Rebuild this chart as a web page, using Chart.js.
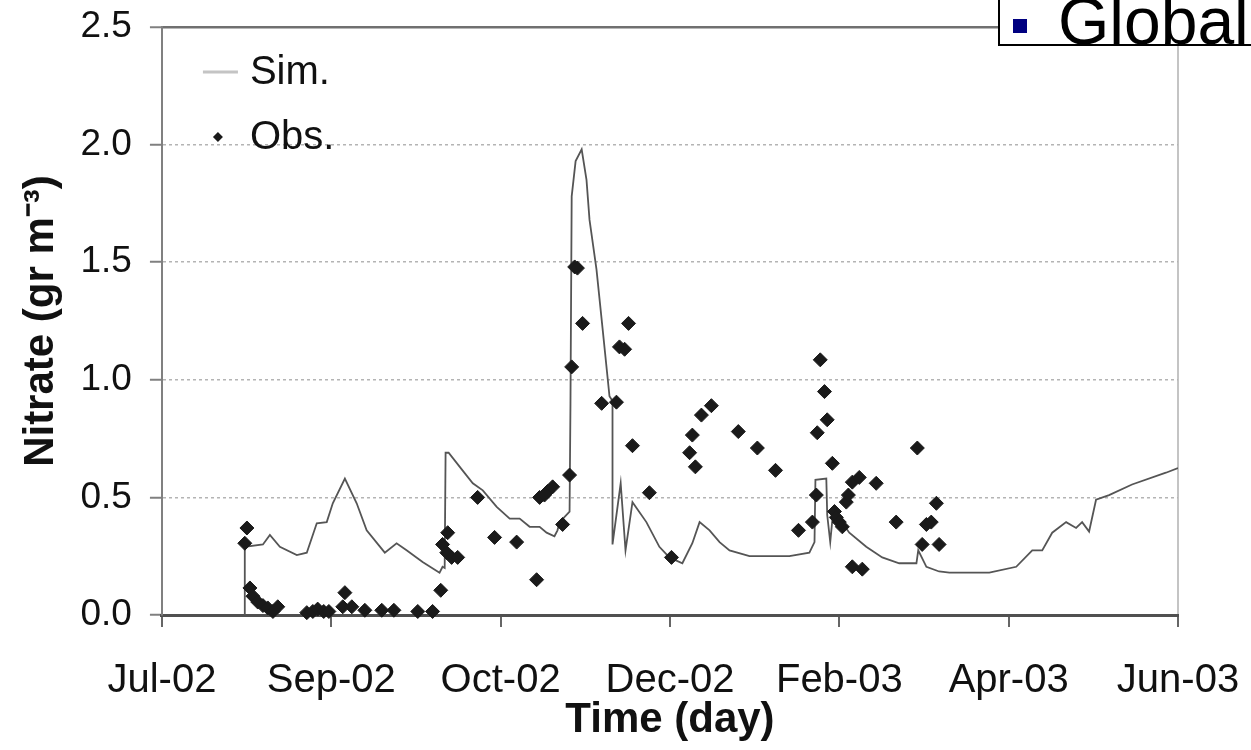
<!DOCTYPE html>
<html>
<head>
<meta charset="utf-8">
<title>Nitrate</title>
<script src="https://cdn.jsdelivr.net/npm/chart.js@4.4.1/dist/chart.umd.min.js"></script>
<style>
  body { margin: 0; background: #fff; }
  #wrap { position: relative; width: 1251px; height: 750px; overflow: hidden; }
  #slideBox {
    position: absolute; left: 998px; top: -20px; width: 300px; height: 62px;
    border: 2px solid #000; background: #fff;
  }
  #slideBullet { position: absolute; left: 13px; top: 37px; width: 14px; height: 14px; background: #000080; }
  #slideText {
    position: absolute; left: 58px; top: 7px; font: 66px 'Liberation Sans', Arial, sans-serif;
    line-height: 64px; color: #000;
  }
</style>
</head>
<body>
<div id="wrap">
  <canvas id="nitrateChart" width="1251" height="750"></canvas>
  <div id="slideBox"><div id="slideBullet"></div><div id="slideText">Global</div></div>
</div>
<script>
// x values are days from the first axis tick (one tick = 56 days)
const tickLabels = ['Jul-02', 'Sep-02', 'Oct-02', 'Dec-02', 'Feb-03', 'Apr-03', 'Jun-03'];

const simDays = [27.4, 27.4, 33.4, 35.7, 39.0, 44.6, 47.9, 51.2, 54.5, 56.5, 60.5, 64.4, 67.7, 73.7, 77.6,
  80.9, 86.2, 91.8, 92.8, 93.5, 93.8, 94.8, 99.4, 102.8, 106.1, 110.7, 115.0, 118.3, 121.6, 124.9,
  127.2, 129.8, 130.8, 131.5, 134.8, 135.1, 135.5, 136.8, 138.8, 140.4, 141.4, 143.7, 145.7, 148.0, 149.0,
  149.0, 151.7, 153.3, 155.6, 160.2, 164.5, 167.8, 172.1, 175.4, 177.8, 181.1, 184.4, 187.7, 194.3, 207.5,
  214.1, 215.8, 216.1, 219.7, 220.0, 221.0, 222.0, 227.3, 232.9, 238.2, 243.8, 249.5, 250.1, 252.8, 257.0,
  260.4, 273.6, 282.5, 287.8, 291.1, 294.4, 299.0, 302.3, 304.3, 306.6, 308.9, 313.2, 320.8, 332.0, 336.0];
const simNitrate = [0, 0.29, 0.30, 0.34, 0.29, 0.255, 0.265, 0.39, 0.395, 0.475, 0.58, 0.475, 0.36, 0.265, 0.305,
  0.275, 0.225, 0.18, 0.205, 0.2, 0.69, 0.69, 0.615, 0.56, 0.53, 0.46, 0.41, 0.41, 0.375, 0.375,
  0.35, 0.335, 0.36, 0.395, 0.44, 0.90, 1.78, 1.93, 1.98, 1.85, 1.68, 1.47, 1.22, 0.93, 0.91,
  0.30, 0.56, 0.275, 0.48, 0.395, 0.29, 0.245, 0.22, 0.305, 0.395, 0.36, 0.31, 0.275, 0.25, 0.25,
  0.265, 0.31, 0.575, 0.58, 0.425, 0.31, 0.445, 0.35, 0.29, 0.245, 0.22, 0.22, 0.275, 0.205, 0.185,
  0.18, 0.18, 0.205, 0.275, 0.275, 0.35, 0.395, 0.37, 0.395, 0.355, 0.49, 0.51, 0.555, 0.605, 0.625];

const obsDays = [27.4, 28.1, 29.1, 30.1, 31.7, 33.4, 35.0, 36.7, 38.3, 47.9, 49.9, 51.5, 53.5, 55.2, 59.8,
  60.5, 62.8, 67.1, 72.7, 76.7, 84.6, 89.5, 92.2, 92.8, 94.2, 94.5, 95.8, 97.8, 104.4, 110.0,
  117.3, 123.9, 124.9, 126.5, 127.5, 129.2, 132.5, 134.8, 135.5, 136.5, 137.4, 139.1, 145.4, 150.3, 151.3,
  153.0, 154.3, 155.6, 161.2, 168.5, 174.5, 175.4, 176.4, 178.4, 181.7, 190.6, 196.9, 202.9, 210.5, 215.1,
  216.4, 216.7, 217.7, 219.1, 220.0, 221.7, 222.4, 223.0, 224.0, 225.0, 226.3, 227.0, 228.3, 230.6, 228.3,
  231.6, 236.2, 242.8, 249.8, 251.4, 252.8, 254.4, 256.1, 257.0];
const obsNitrate = [0.305, 0.37, 0.115, 0.08, 0.055, 0.04, 0.03, 0.015, 0.035, 0.01, 0.015, 0.025, 0.015, 0.015, 0.035,
  0.095, 0.035, 0.02, 0.02, 0.02, 0.015, 0.015, 0.105, 0.30, 0.265, 0.35, 0.245, 0.245, 0.50, 0.33,
  0.31, 0.15, 0.50, 0.51, 0.525, 0.545, 0.385, 0.595, 1.055, 1.48, 1.475, 1.24, 0.90, 0.905, 1.14,
  1.13, 1.24, 0.72, 0.52, 0.245, 0.69, 0.765, 0.63, 0.85, 0.89, 0.78, 0.71, 0.615, 0.36, 0.395,
  0.51, 0.775, 1.085, 0.95, 0.83, 0.645, 0.44, 0.415, 0.395, 0.375, 0.48, 0.51, 0.565, 0.585, 0.205,
  0.195, 0.56, 0.395, 0.71, 0.30, 0.385, 0.395, 0.475, 0.30];

const FONT = "'Liberation Sans', Arial, sans-serif";
Chart.defaults.font.family = FONT;
Chart.defaults.color = '#111';

// legend drawn inside the plot, top-left, like the original
const innerLegend = {
  id: 'innerLegend',
  afterDatasetsDraw(chart) {
    const { ctx, chartArea } = chart;
    const x0 = chartArea.left;
    const y0 = chartArea.top;
    ctx.save();
    ctx.font = '40px ' + FONT;
    ctx.fillStyle = '#111';
    ctx.textBaseline = 'middle';
    // Sim.
    ctx.strokeStyle = '#c4c4c4';
    ctx.lineWidth = 3;
    ctx.beginPath();
    ctx.moveTo(x0 + 41, y0 + 45);
    ctx.lineTo(x0 + 76, y0 + 45);
    ctx.stroke();
    ctx.fillText(chart.data.datasets[1].label, x0 + 88, y0 + 46);
    // Obs.
    ctx.fillStyle = '#1a1a1a';
    ctx.beginPath();
    ctx.moveTo(x0 + 56, y0 + 105);
    ctx.lineTo(x0 + 61, y0 + 110);
    ctx.lineTo(x0 + 56, y0 + 115);
    ctx.lineTo(x0 + 51, y0 + 110);
    ctx.closePath();
    ctx.fill();
    ctx.fillStyle = '#111';
    ctx.fillText(chart.data.datasets[0].label, x0 + 88, y0 + 111);
    ctx.restore();
  }
};

const ctx = document.getElementById('nitrateChart').getContext('2d');
new Chart(ctx, {
  type: 'scatter',
  data: {
    datasets: [{
      label: 'Obs.',
      data: obsDays.map((d, i) => ({ x: d, y: obsNitrate[i] })),
      pointStyle: 'rectRot',
      pointRadius: 7,
      backgroundColor: '#1a1a1a',
      borderColor: '#1a1a1a',
      borderWidth: 1,
      clip: false,
      order: 0
    }, {
      label: 'Sim.',
      data: simDays.map((d, i) => ({ x: d, y: simNitrate[i] })),
      showLine: true,
      pointRadius: 0,
      borderColor: '#555',
      borderWidth: 1.8,
      order: 1
    }]
  },
  options: {
    responsive: false,
    animation: false,
    layout: { padding: { left: 20, top: 27, right: 73, bottom: 9 } },
    plugins: { legend: { display: false }, tooltip: { enabled: false } },
    scales: {
      x: {
        type: 'linear',
        min: 0,
        max: 336,
        ticks: {
          stepSize: 56,
          autoSkip: false,
          maxRotation: 0,
          padding: 10,
          font: { size: 40, lineHeight: 2.2 },
          callback: v => tickLabels[Math.round(v / 56)]
        },
        grid: {
          color: c => (c.index === tickLabels.length - 1 ? '#c4c4c4' : 'rgba(0,0,0,0)'),
          lineWidth: 2,
          tickColor: '#666',
          tickLength: 12,
          tickWidth: 2
        },
        border: { color: '#505050', width: 3 },
        title: {
          display: true,
          text: 'Time (day)',
          font: { size: 42, weight: 'bold', lineHeight: 1.0 },
          padding: { top: -36, bottom: 0 }
        }
      },
      y: {
        min: 0,
        max: 2.5,
        ticks: {
          stepSize: 0.5,
          padding: 18,
          font: { size: 37, lineHeight: 0.49 },
          callback: v => v.toFixed(1)
        },
        grid: {
          color: c => (c.tick && c.tick.value === 2.5 ? '#707070' : (c.tick && c.tick.value === 0 ? 'rgba(0,0,0,0)' : '#b4b4b4')),
          lineWidth: c => (c.tick && c.tick.value === 2.5 ? 2.5 : 1.5),
          tickColor: '#808080',
          tickLength: 12,
          tickWidth: 2
        },
        border: {
          color: '#808080',
          width: 2,
          dash: c => (c.tick && c.tick.value === 2.5 ? [] : [3, 3])
        },
        title: {
          display: true,
          text: 'Nitrate (gr m\u207B\u00B3)',
          font: { size: 42, weight: 'bold', lineHeight: 1.0 },
          padding: { top: 0, bottom: 0.5 }
        }
      }
    }
  },
  plugins: [innerLegend]
});
</script>
</body>
</html>
